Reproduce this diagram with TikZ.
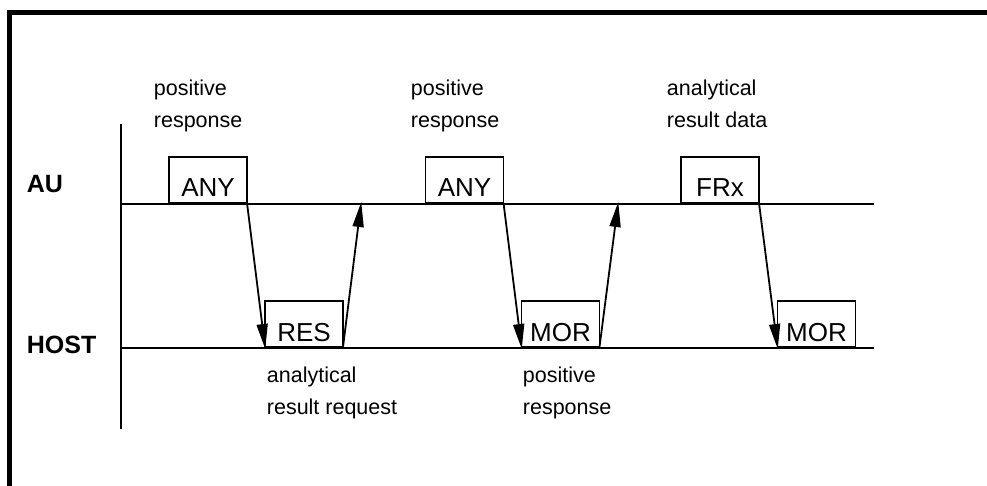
\documentclass[tikz,border=0pt]{standalone}
\usepackage{fontspec}
\setmainfont{Liberation Sans}
\usetikzlibrary{arrows.meta}
\begin{document}
\begin{tikzpicture}[x=1pt,y=-1pt,
  line width=1.8pt,
  lane/.style={font=\fontsize{25}{30}\selectfont\bfseries,anchor=base west,inner sep=0},
  note/.style={font=\fontsize{21.5}{32}\selectfont,anchor=base west,inner sep=0,align=left},
  msgbox/.style={draw,rectangle,inner sep=0,outer sep=0,minimum width=78pt,
    text height=40pt,text depth=6pt,anchor=south,
    font=\fontsize{26}{30}\selectfont},
  msg/.style={-{Triangle[length=25pt,width=11pt]},shorten >=-2pt}]
\useasboundingbox (0,0) rectangle (987,486);
% frame
\draw[line width=5pt] (9.5,486) -- (9.5,12.5) -- (987,12.5);
% time axis and the two lanes
\coordinate (axT) at (121,124);
\coordinate (axB) at (121,429);
\coordinate (auL) at (121,204);
\coordinate (auR) at (874,204);
\coordinate (hoL) at (121,348);
\coordinate (hoR) at (874,348);
\draw (axT) -- (axB);
\draw (auL) -- (auR);
\draw (hoL) -- (hoR);
\node[lane] (au) at (26,193) {AU};
\node[lane] (host) at (26,353) {HOST};
% messages
\node[msgbox] (any1) at (208,203) {ANY};
\node[msgbox] (res)  at (304,347) {RES};
\node[msgbox] (any2) at (464.5,203) {ANY};
\node[msgbox] (mor1) at (560.5,347) {MOR};
\node[msgbox] (frx)  at (720,203) {FRx};
\node[msgbox] (mor2) at (816.5,347) {MOR};
% return points on the AU lane
\coordinate (r1) at (361,204);
\coordinate (r2) at (618,204);
% connectors
\draw[msg] (any1.south east) -- (res.south west);
\draw[msg] (res.south east) -- (r1);
\draw[msg] (any2.south east) -- (mor1.south west);
\draw[msg] (mor1.south east) -- (r2);
\draw[msg] (frx.south east) -- (mor2.south west);
% captions (anchored at the baseline of their last line)
\node[note] (n1) at (153,128) {positive\\response};
\node[note] (n2) at (410,128) {positive\\response};
\node[note] (n3) at (666,128) {analytical\\result data};
\node[note] (n4) at (266,414) {analytical\\result request};
\node[note] (n5) at (522,414) {positive\\response};
\end{tikzpicture}
\end{document}
